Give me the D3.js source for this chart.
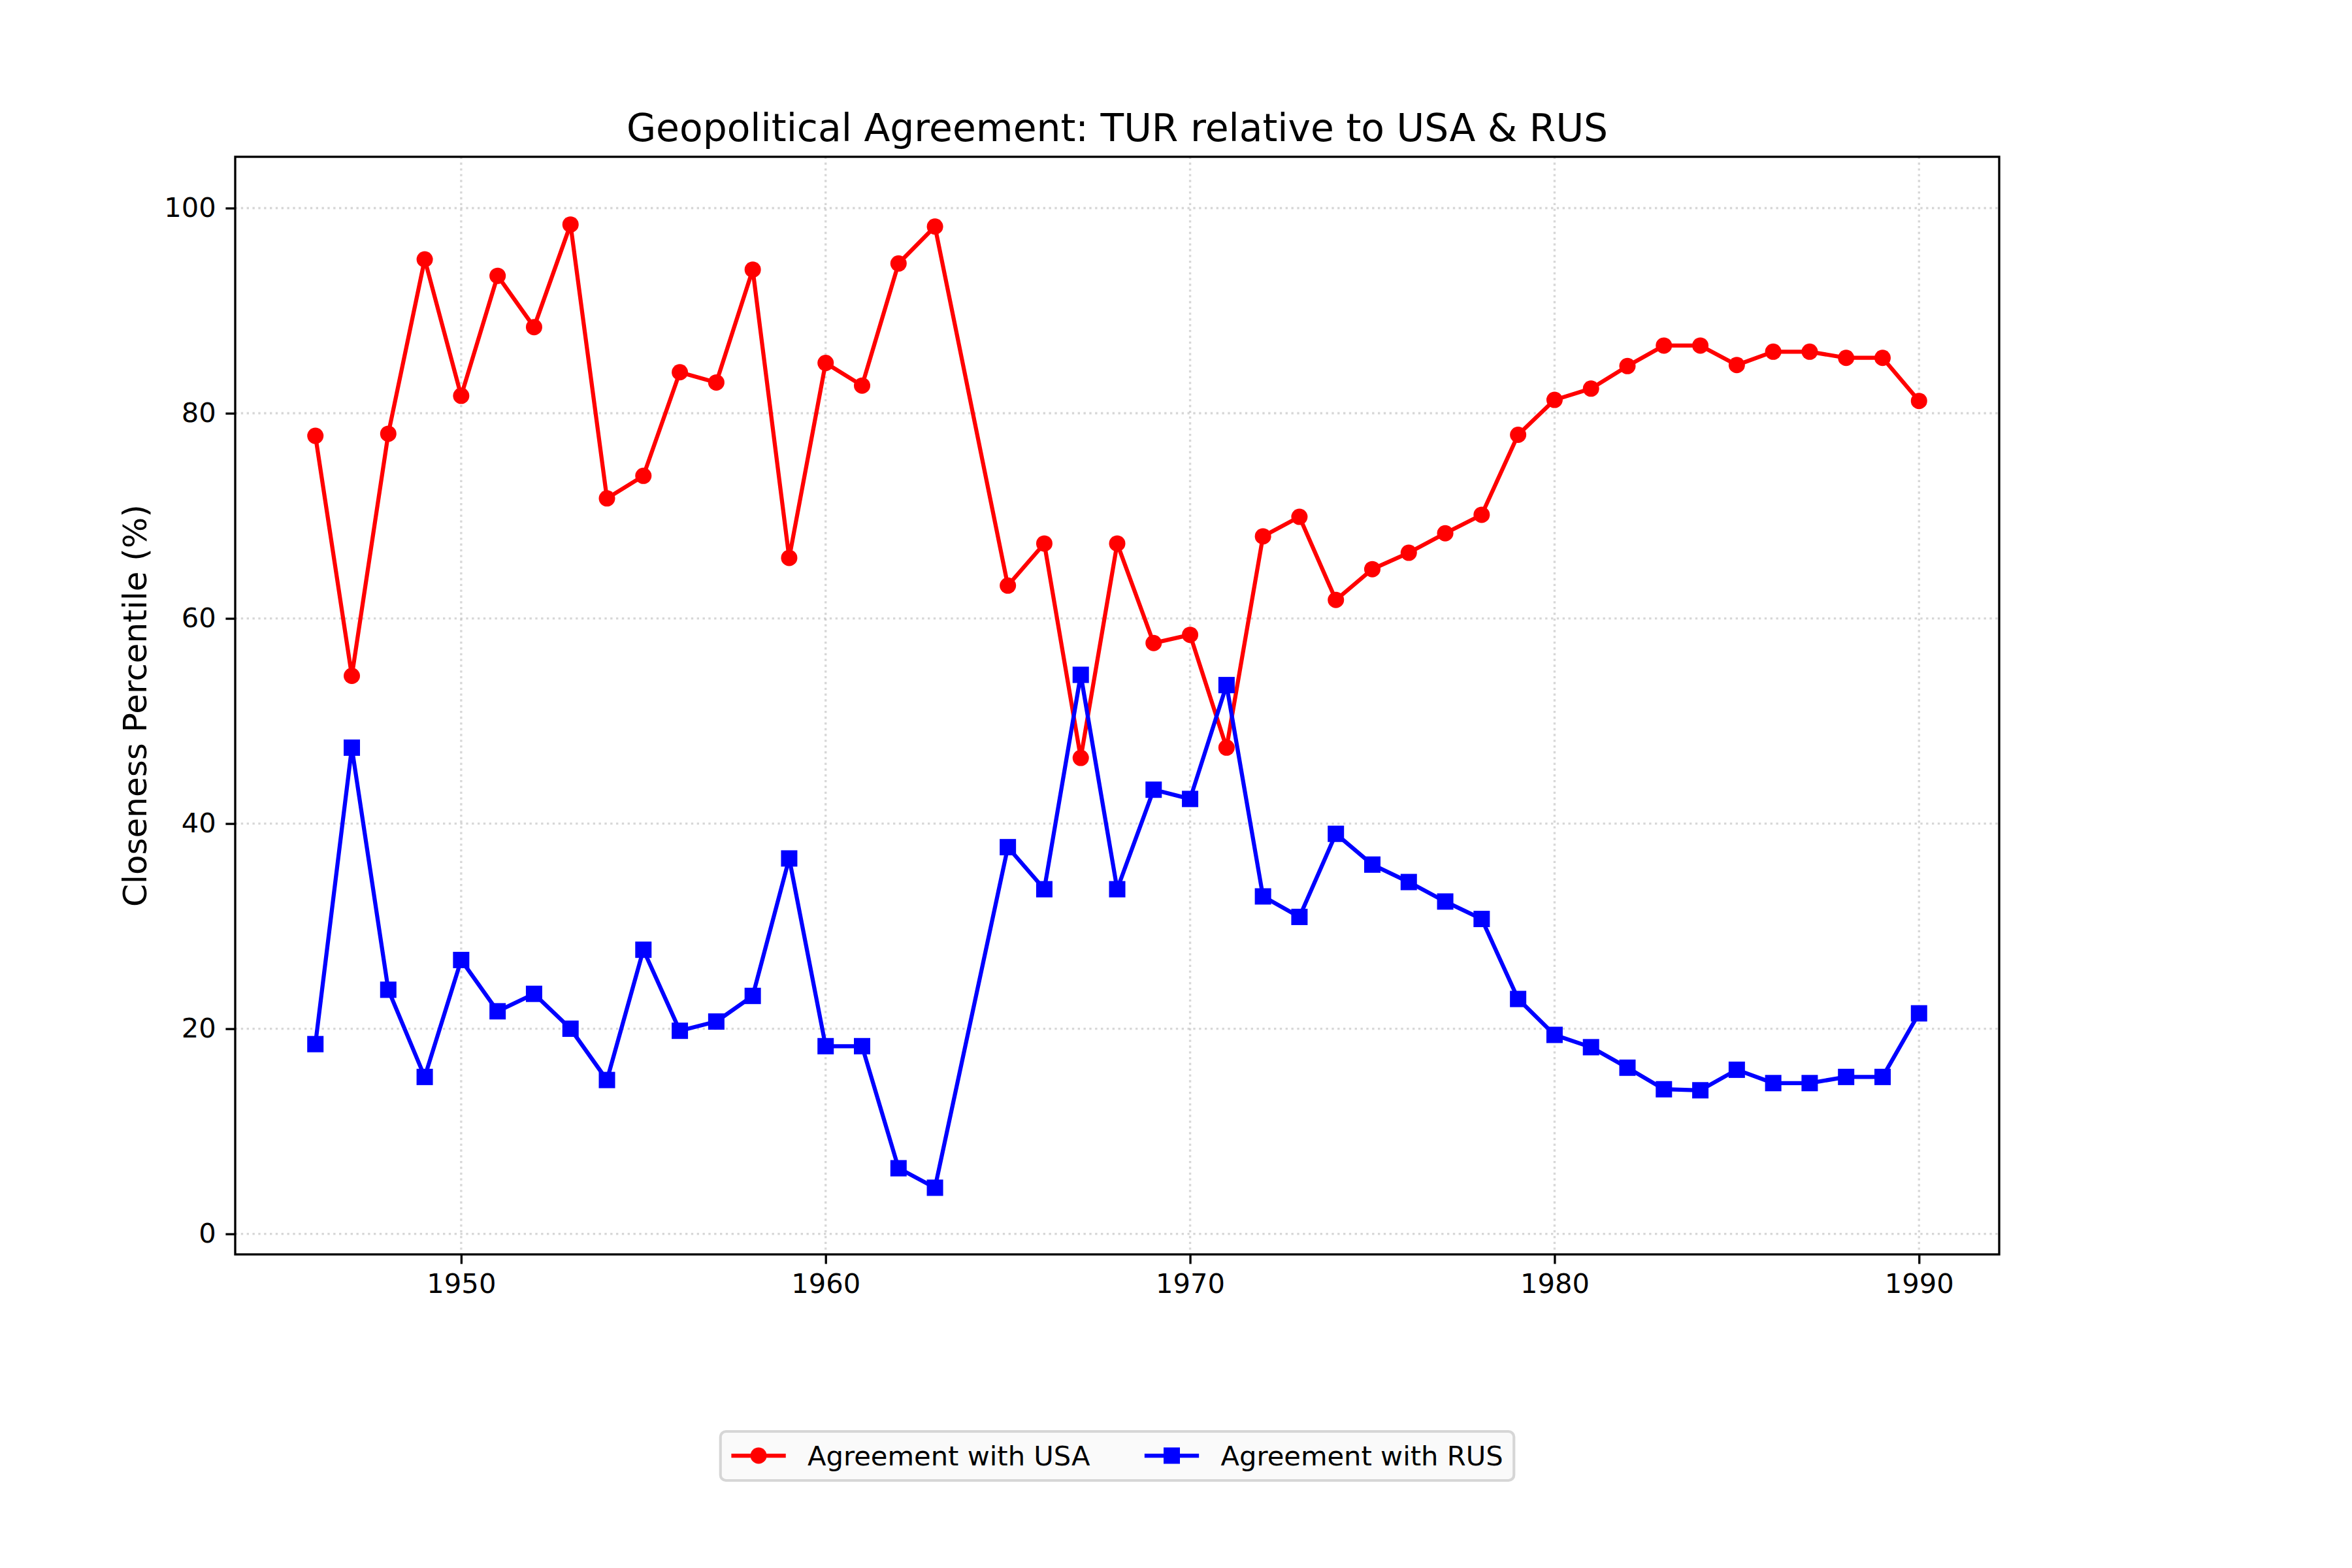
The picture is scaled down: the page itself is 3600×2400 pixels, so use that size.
<!DOCTYPE html>
<html>
<head>
<meta charset="utf-8">
<script src="https://cdn.jsdelivr.net/npm/d3@7"></script>
<style>
  body { margin: 0; background: white; }
  text { font-family: "DejaVu Sans", sans-serif; fill: black; }
</style>
</head>
<body>
<svg id="chart" width="3600" height="2400"></svg>
<script>
// data (1964 has no point)
var years = [1946, 1947, 1948, 1949, 1950, 1951, 1952, 1953, 1954, 1955,
             1956, 1957, 1958, 1959, 1960, 1961, 1962, 1963, 1965, 1966,
             1967, 1968, 1969, 1970, 1971, 1972, 1973, 1974, 1975, 1976,
             1977, 1978, 1979, 1980, 1981, 1982, 1983, 1984, 1985, 1986,
             1987, 1988, 1989, 1990];
var usaValues = [77.8, 54.4, 78.0, 95.0, 81.7, 93.4, 88.4, 98.4, 71.7, 73.9,
                 84.0, 83.0, 94.0, 65.9, 84.9, 82.7, 94.6, 98.2, 63.2, 67.3,
                 46.4, 67.3, 57.6, 58.4, 47.4, 68.0, 69.9, 61.8, 64.8, 66.4,
                 68.3, 70.1, 77.9, 81.3, 82.4, 84.6, 86.6, 86.6, 84.7, 86.0,
                 86.0, 85.4, 85.4, 81.2];
var rusValues = [18.5, 47.4, 23.8, 15.3, 26.7, 21.7, 23.4, 20.0, 15.0, 27.7,
                 19.8, 20.7, 23.2, 36.6, 18.3, 18.3, 6.4, 4.5, 37.7, 33.6,
                 54.5, 33.6, 43.3, 42.4, 53.5, 32.9, 30.9, 39.0, 36.0, 34.3,
                 32.4, 30.7, 22.9, 19.4, 18.2, 16.2, 14.1, 14.0, 16.0, 14.7,
                 14.7, 15.3, 15.3, 21.5];
var xTicks = [1950, 1960, 1970, 1980, 1990];
var yTicks = [0, 20, 40, 60, 80, 100];
var seriesNames = ['Agreement with USA', 'Agreement with RUS'];

var svg = d3.select('#chart');
var plot = {left: 360, right: 3060, top: 240, bottom: 1920};
var pt = 300 / 72;

var x = d3.scaleLinear()
          .domain([1943.8, 1992.2])
          .range([plot.left, plot.right]);
var y = d3.scaleLinear()
          .domain([-2, 105])
          .range([plot.bottom, plot.top]);

// grid
var grid = svg.append('g');
grid.selectAll('.gx')
  .data(xTicks)
  .enter()
  .append('line')
    .attr('x1', d => x(d)).attr('x2', d => x(d))
    .attr('y1', plot.top).attr('y2', plot.bottom);
grid.selectAll('.gy')
  .data(yTicks)
  .enter()
  .append('line')
    .attr('x1', plot.left).attr('x2', plot.right)
    .attr('y1', d => y(d)).attr('y2', d => y(d));
grid.selectAll('line')
  .attr('stroke', '#b0b0b0')
  .attr('stroke-opacity', 0.5)
  .attr('stroke-width', 0.8 * pt)
  .attr('stroke-dasharray', (0.8 * pt) + ',' + (1.32 * pt));

// axes
var xAxis = d3.axisBottom(x)
              .tickValues(xTicks)
              .tickFormat(d3.format('d'))
              .tickSize(3.5 * pt)
              .tickPadding(3.5 * pt);
var yAxis = d3.axisLeft(y)
              .tickValues(yTicks)
              .tickSize(3.5 * pt)
              .tickPadding(3.5 * pt);

svg.append('g')
  .attr('transform', `translate(0,${plot.bottom})`)
  .call(xAxis);
svg.append('g')
  .attr('transform', `translate(${plot.left},0)`)
  .call(yAxis);

svg.selectAll('.domain').remove();
svg.selectAll('.tick line')
  .attr('stroke', 'black')
  .attr('stroke-width', 0.8 * pt);
svg.selectAll('.tick text')
  .style('font-family', '"DejaVu Sans", sans-serif')
  .style('font-size', (10 * pt) + 'px')
  .attr('fill', 'black');

// series
var line = d3.line()
             .x((d, i) => x(years[i]))
             .y(d => y(d));

svg.append('path')
  .datum(usaValues)
  .attr('d', line)
  .attr('fill', 'none')
  .attr('stroke', 'red')
  .attr('stroke-width', 1.5 * pt)
  .attr('stroke-linejoin', 'round')
  .attr('stroke-linecap', 'square');

svg.selectAll('.usa-dot')
  .data(usaValues)
  .enter()
  .append('circle')
    .attr('cx', (d, i) => x(years[i]))
    .attr('cy', d => y(d))
    .attr('r', 12.5)
    .attr('fill', 'red');

svg.append('path')
  .datum(rusValues)
  .attr('d', line)
  .attr('fill', 'none')
  .attr('stroke', 'blue')
  .attr('stroke-width', 1.5 * pt)
  .attr('stroke-linejoin', 'round')
  .attr('stroke-linecap', 'square');

svg.selectAll('.rus-dot')
  .data(rusValues)
  .enter()
  .append('rect')
    .attr('x', (d, i) => x(years[i]) - 12.5)
    .attr('y', d => y(d) - 12.5)
    .attr('width', 25)
    .attr('height', 25)
    .attr('fill', 'blue');

// frame
svg.append('rect')
  .attr('x', plot.left)
  .attr('y', plot.top)
  .attr('width', plot.right - plot.left)
  .attr('height', plot.bottom - plot.top)
  .attr('fill', 'none')
  .attr('stroke', 'black')
  .attr('stroke-width', 0.8 * pt);

// title and label
svg.append('text')
  .attr('x', (plot.left + plot.right) / 2)
  .attr('y', 216)
  .attr('text-anchor', 'middle')
  .style('font-size', (14 * pt) + 'px')
  .text('Geopolitical Agreement: TUR relative to USA & RUS');

svg.append('text')
  .attr('transform', `translate(224,${(plot.top + plot.bottom) / 2}) rotate(-90)`)
  .attr('text-anchor', 'middle')
  .style('font-size', (12 * pt) + 'px')
  .text('Closeness Percentile (%)');

// legend
var fs = 10 * pt;
var legend = svg.append('g');
var box = legend.append('rect');
var colors = ['red', 'blue'];
var cy = 2228;
var cursor = 0;
var items = [];
seriesNames.forEach((name, i) => {
  var g = legend.append('g');
  g.append('line')
    .attr('x1', 0).attr('x2', 2 * fs)
    .attr('y1', 0).attr('y2', 0)
    .attr('stroke', colors[i])
    .attr('stroke-width', 1.5 * pt);
  if (i === 0)
    g.append('circle').attr('cx', fs).attr('cy', 0).attr('r', 12.5).attr('fill', colors[i]);
  else
    g.append('rect').attr('x', fs - 12.5).attr('y', -12.5).attr('width', 25).attr('height', 25).attr('fill', colors[i]);
  var t = g.append('text')
    .attr('x', 2.8 * fs)
    .attr('y', 0)
    .attr('dy', '0.35em')
    .style('font-size', fs + 'px')
    .text(name);
  var w = 2.8 * fs + t.node().getComputedTextLength();
  items.push({g: g, offset: cursor});
  cursor += w + 2 * fs;
});
var total = cursor - 2 * fs;
var startX = (plot.left + plot.right) / 2 - total / 2;
items.forEach(it => it.g.attr('transform', `translate(${startX + it.offset},${cy})`));
box
  .attr('x', startX - 0.4 * fs)
  .attr('y', 2191)
  .attr('width', total + 0.8 * fs)
  .attr('height', 75)
  .attr('rx', 0.2 * fs)
  .attr('fill', '#fafafa')
  .attr('stroke', '#d6d6d6')
  .attr('stroke-width', pt);
</script>
</body>
</html>
